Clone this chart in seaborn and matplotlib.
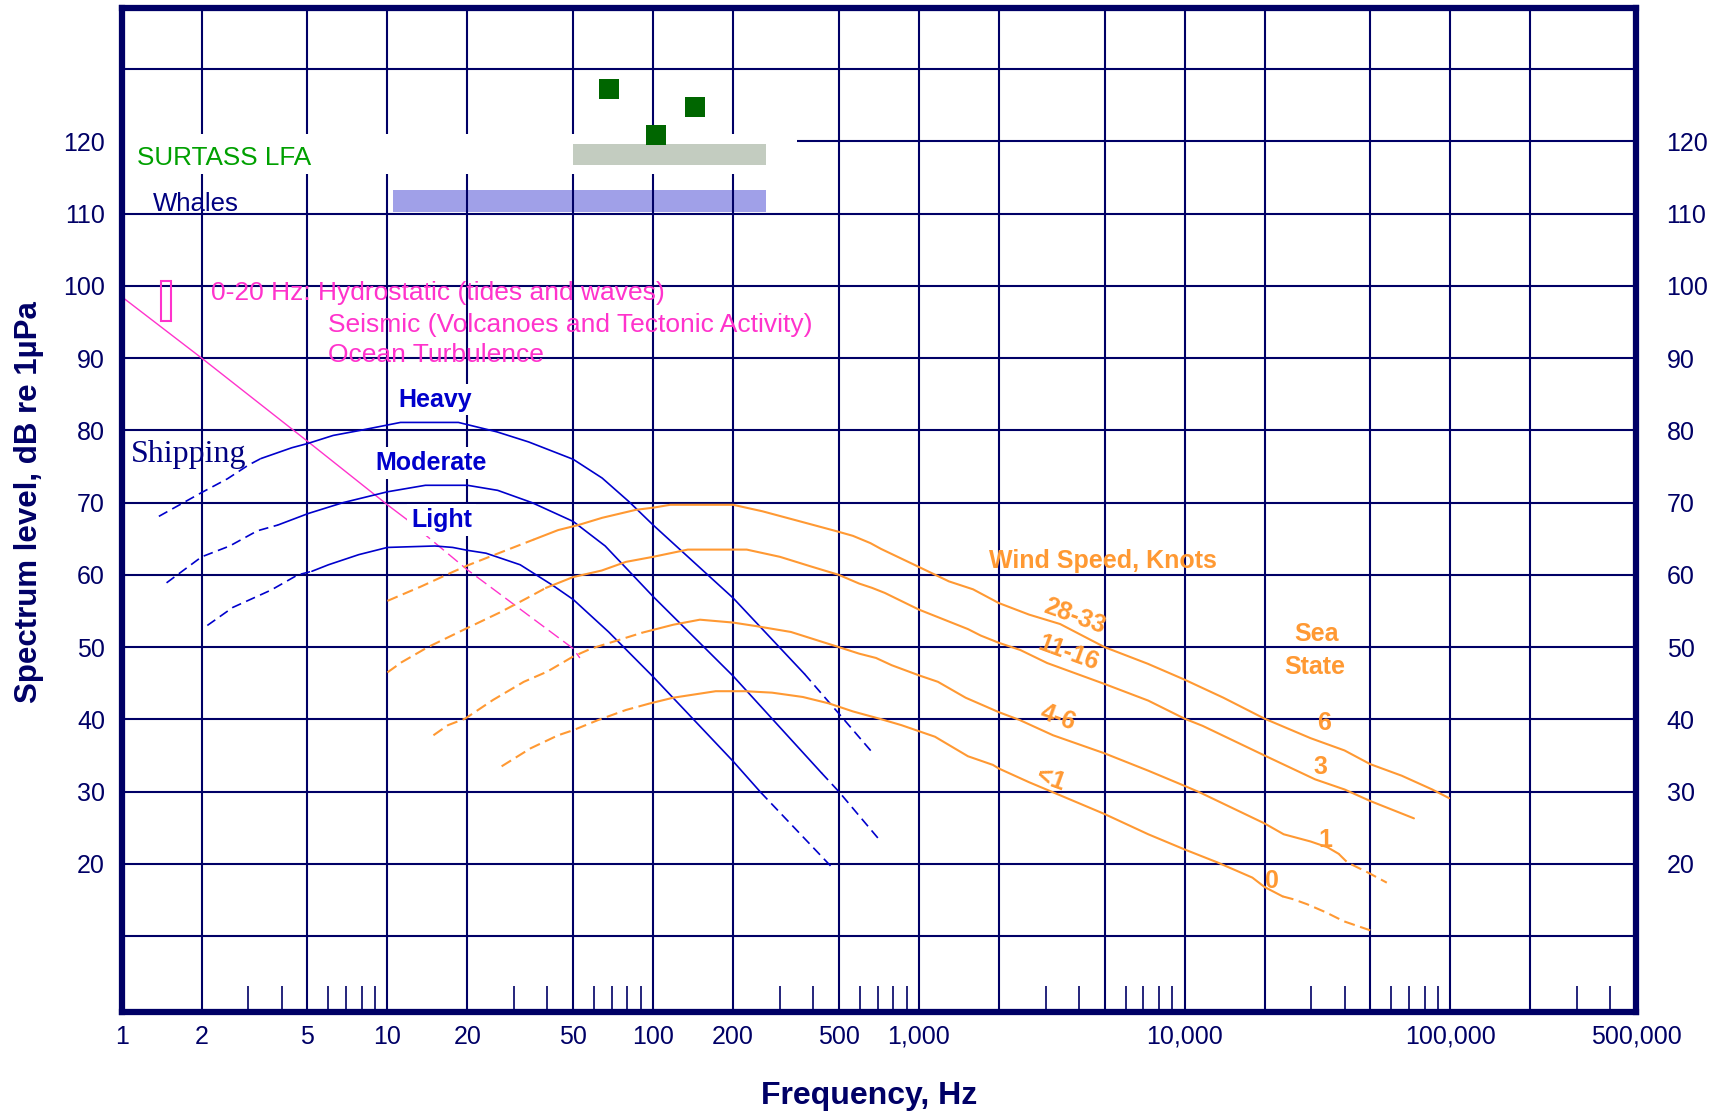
import matplotlib
matplotlib.use("Agg")
import matplotlib.pyplot as plt
from matplotlib.patches import Rectangle
from matplotlib.ticker import NullFormatter, NullLocator
import pandas as pd
import seaborn as sns

# ------------------------------------------------------------------ data
x_major = [1, 2, 5, 10, 20, 50, 100, 200, 500, 1000, 2000, 5000, 10000,
           20000, 50000, 100000, 200000, 500000]
x_labels = ['1', '2', '5', '10', '20', '50', '100', '200', '500', '1,000', '', '',
            '10,000', '', '', '100,000', '', '500,000']
x_minor = [3, 4, 6, 7, 8, 9, 30, 40, 60, 70, 80, 90, 300, 400, 600, 700, 800, 900,
           3000, 4000, 6000, 7000, 8000, 9000, 30000, 40000, 60000, 70000, 80000,
           90000, 300000, 400000]
y_major = [10, 20, 30, 40, 50, 60, 70, 80, 90, 100, 110, 120, 130]
y_labels = ['', '20', '30', '40', '50', '60', '70', '80', '90', '100', '110', '120', '']

# Shipping (blue)
heavy_lo_f = [1.38, 2.0, 2.5, 3.0, 3.34]
heavy_lo_db = [68.1, 71.4, 73.3, 75.2, 76.1]
heavy_f = [3.34, 4.37, 5.03, 6.25, 7.9, 11.2, 18.5, 25.8, 34, 50, 64.3, 81.3, 100, 200, 371]
heavy_db = [76.1, 77.6, 78.2, 79.3, 80.0, 81.1, 81.1, 79.8, 78.4, 76.0, 73.4, 70.1, 66.9, 56.8, 46.3]
heavy_hi_f = [371, 500, 676]
heavy_hi_db = [46.3, 40.8, 35.2]

moderate_lo_f = [1.475, 2.0, 2.55, 3.24, 3.87]
moderate_lo_db = [58.9, 62.5, 64.0, 66.1, 66.9]
moderate_f = [3.87, 5.04, 6.81, 10, 13.9, 20, 26, 35, 50, 66, 100, 200, 430]
moderate_db = [66.9, 68.5, 70.0, 71.5, 72.4, 72.4, 71.7, 70.0, 67.4, 64.0, 57.0, 46.0, 32.6]
moderate_hi_f = [430, 500, 708]
moderate_hi_db = [32.6, 30.0, 23.4]

light_lo_f = [2.1, 2.62, 3.65, 4.6, 5.2]
light_lo_db = [53.0, 55.5, 57.9, 60.0, 60.5]
light_f = [5.2, 6.0, 7.8, 10, 15.1, 17.6, 20, 23.5, 31.6, 41.7, 50, 68, 100, 200, 226, 254]
light_db = [60.5, 61.4, 62.8, 63.8, 64.0, 63.8, 63.4, 63.0, 61.4, 58.6, 56.6, 52.1, 45.9, 34.2, 32.0, 29.9]
light_hi_f = [254, 466]
light_hi_db = [29.9, 19.7]

# Wind / sea state (orange)
ws28_lo_f = [10, 13.4, 17.6, 20, 25.8, 35.6]
ws28_lo_db = [56.4, 58.4, 60.4, 61.3, 62.9, 64.9]
ws28_f = [35.6, 43.9, 52.3, 64.3, 86, 100, 116, 200, 258, 366, 495, 565, 657, 720, 1000,
          1298, 1600, 2000, 2600, 3400, 5000, 7270, 10000, 14000, 20000, 29800, 40000,
          50000, 65700, 85500, 99000]
ws28_db = [64.9, 66.2, 66.9, 67.9, 69.0, 69.3, 69.7, 69.7, 68.8, 67.3, 66.0, 65.4, 64.4, 63.6,
           61.1, 59.1, 58.0, 56.1, 54.5, 53.2, 50.0, 47.7, 45.5, 43.0, 40.1, 37.4, 35.7,
           33.8, 32.2, 30.3, 29.1]

ws11_lo_f = [10, 11.3, 14.2, 19.6, 26.5, 33.6, 39.5]
ws11_lo_db = [46.5, 47.9, 50.0, 52.5, 54.8, 56.8, 58.2]
ws11_f = [39.5, 50, 64, 79, 100, 135, 225, 300, 390, 500, 596, 667, 745, 1000, 1530, 1710,
          2000, 2410, 3040, 5000, 7300, 10000, 11700, 20000, 31000, 40000, 50000, 73000]
ws11_db = [58.2, 59.7, 60.6, 61.8, 62.5, 63.5, 63.5, 62.5, 61.2, 60.0, 58.8, 58.2, 57.5, 55.2,
           52.5, 51.6, 50.6, 49.6, 47.8, 44.9, 42.6, 40.1, 39.1, 35.0, 31.7, 30.3, 28.7, 26.3]

ws4_lo_f = [14.9, 16.9, 19.6, 25, 32.6, 39.9, 50, 58.5, 91]
ws4_lo_db = [37.8, 39.2, 40.1, 42.7, 45.2, 46.6, 48.7, 49.8, 52.0]
ws4_f = [91, 119, 150, 200, 245, 330, 500, 596, 690, 790, 1000, 1180, 1500, 2000, 2400,
         3200, 5000, 7300, 10000, 11400, 20000, 23600, 29800, 34500, 38000]
ws4_db = [52.0, 53.1, 53.8, 53.4, 52.9, 52.1, 50.0, 49.1, 48.5, 47.5, 46.1, 45.2, 43.0, 41.0,
          39.9, 37.8, 35.3, 32.9, 30.8, 29.9, 25.6, 24.1, 23.1, 22.3, 21.4]
ws4_hi_f = [38000, 41000, 49000, 57700]
ws4_hi_db = [21.4, 20.2, 18.8, 17.4]

ws1_lo_f = [26.9, 34.6, 43.9, 50, 62, 79, 97]
ws1_lo_db = [33.5, 36.0, 37.8, 38.5, 39.9, 41.3, 42.2]
ws1_f = [97, 119, 172, 222, 280, 366, 460, 565, 710, 860, 1150, 1530, 1900, 2000, 2600,
         3300, 5000, 7300, 10000, 13300, 18000, 20000, 23400]
ws1_db = [42.2, 43.0, 43.9, 43.9, 43.7, 43.1, 42.2, 41.1, 40.1, 39.2, 37.6, 34.9, 33.7, 33.2,
          31.3, 29.7, 26.9, 24.1, 22.0, 20.2, 18.1, 16.8, 15.5]
ws1_hi_f = [23400, 25700, 29000, 34000, 39800, 50000]
ws1_hi_db = [15.5, 15.1, 14.4, 13.3, 12.05, 10.8]

# Hydrostatic / seismic / turbulence line (pink)
turb_f = [1.0, 2, 5, 10, 11.8]
turb_db = [98.5, 90.0, 78.5, 69.7, 67.7]
turb_hi_f = [11.8, 20, 50, 53]
turb_hi_db = [67.7, 60.7, 49.8, 48.5]
hydro_box_f = [1.40, 1.53]
hydro_box_db = [95.2, 100.7]

# Sources at top
surtass_f = [50, 267]
surtass_db = [116.7, 119.6]
whales_f = [10.5, 267]
whales_db = [110.2, 113.3]
blank_f = [1.0, 348]
blank_db = [115.5, 121.0]
square_f = [68, 102.7, 144]
square_db = [127.2, 120.9, 124.8]

# ------------------------------------------------------------------ style
navy = '#000066'
blue = '#0000CC'
orange = '#FF9933'
pink = '#FF33CC'

sns.set_theme(style='white')
plt.rcParams['font.family'] = ['Liberation Sans', 'DejaVu Sans']
plt.rcParams['lines.scale_dashes'] = False

fig = plt.figure(figsize=(17.22, 11.14), dpi=100)
ax = fig.add_axes([121.7 / 1722, 102 / 1114, (1636 - 121.7) / 1722, 1004 / 1114])
ax.set_xscale('log')


def seg(f, db, color, lw, dash=None, z=2):
    df = pd.DataFrame({'f': f, 'db': db})
    ls = (0, dash) if dash else '-'
    sns.lineplot(data=df, x='f', y='db', ax=ax, color=color, linewidth=lw,
                 linestyle=ls, sort=False, estimator=None, zorder=z)


bdash = (7, 4)
odash = (8, 4)
for lo, mid, hi in [((heavy_lo_f, heavy_lo_db), (heavy_f, heavy_db), (heavy_hi_f, heavy_hi_db)),
                    ((moderate_lo_f, moderate_lo_db), (moderate_f, moderate_db), (moderate_hi_f, moderate_hi_db)),
                    ((light_lo_f, light_lo_db), (light_f, light_db), (light_hi_f, light_hi_db))]:
    seg(*lo, blue, 1.2, bdash)
    seg(*mid, blue, 1.2)
    seg(*hi, blue, 1.2, bdash)

seg(ws28_lo_f, ws28_lo_db, orange, 1.5, odash)
seg(ws28_f, ws28_db, orange, 1.5)
seg(ws11_lo_f, ws11_lo_db, orange, 1.5, odash)
seg(ws11_f, ws11_db, orange, 1.5)
seg(ws4_lo_f, ws4_lo_db, orange, 1.5, odash)
seg(ws4_f, ws4_db, orange, 1.5)
seg(ws4_hi_f, ws4_hi_db, orange, 1.5, odash)
seg(ws1_lo_f, ws1_lo_db, orange, 1.5, odash)
seg(ws1_f, ws1_db, orange, 1.5)
seg(ws1_hi_f, ws1_hi_db, orange, 1.5, odash)

seg(turb_f, turb_db, pink, 1.0, z=1.5)
seg(turb_hi_f, turb_hi_db, pink, 1.0, (9, 4), z=1.5)

# top region
ax.add_patch(Rectangle((blank_f[0], blank_db[0]), blank_f[1] - blank_f[0], blank_db[1] - blank_db[0],
                       facecolor='white', edgecolor='none', zorder=0.8))
ax.add_patch(Rectangle((surtass_f[0], surtass_db[0]), surtass_f[1] - surtass_f[0],
                       surtass_db[1] - surtass_db[0], facecolor='#C3CCC0', edgecolor='none', zorder=0.9))
ax.add_patch(Rectangle((whales_f[0], whales_db[0]), whales_f[1] - whales_f[0],
                       whales_db[1] - whales_db[0], facecolor='#A0A0E8', edgecolor='none', zorder=0.3))
ax.add_patch(Rectangle((hydro_box_f[0], hydro_box_db[0]), hydro_box_f[1] - hydro_box_f[0],
                       hydro_box_db[1] - hydro_box_db[0], facecolor='none', edgecolor=pink,
                       linewidth=1.5, zorder=2))
sns.scatterplot(x=square_f, y=square_db, ax=ax, marker='s', s=200, color='#006600',
                linewidth=0, zorder=3)

# axes
ax.set_xlim(1, 500000)
ax.set_ylim(-0.5, 138.46)
ax.set_xlabel('')
ax.set_ylabel('')
ax.set_xticks(x_major)
ax.set_xticklabels(x_labels)
ax.set_xticks(x_minor, minor=True)
ax.xaxis.set_minor_formatter(NullFormatter())
ax.tick_params(axis='x', which='major', length=0, pad=9, labelsize=18, labelcolor=navy)
ax.tick_params(axis='x', which='minor', direction='in', length=19, width=1.2, color=navy,
               bottom=True, top=False)
ax.set_yticks(y_major)
ax.set_yticklabels(y_labels)
ax.yaxis.set_minor_locator(NullLocator())
ax.tick_params(axis='y', which='major', length=0, pad=12, labelsize=18, labelcolor=navy)
ax.grid(True, which='major', axis='both', color=navy, linewidth=1.5)
ax.set_axisbelow(True)
for sp in ax.spines.values():
    sp.set_visible(True)
    sp.set_color(navy)
    sp.set_linewidth(4.5)

ax2 = ax.twinx()
ax2.set_ylim(-0.5, 138.46)
ax2.set_yticks(y_major)
ax2.set_yticklabels(y_labels)
ax2.yaxis.set_minor_locator(NullLocator())
ax2.tick_params(axis='y', which='major', length=0, pad=22, labelsize=18, labelcolor=navy)
ax2.grid(False)
for sp in ax2.spines.values():
    sp.set_visible(False)

# texts
ax.text(1.14, 116.7, 'SURTASS LFA', color='#00A000', fontsize=18.8, va='baseline', zorder=3)
ax.text(1.305, 110.4, 'Whales', color='#000080', fontsize=18.5, va='baseline', zorder=3)
ax.text(2.17, 98.0, '0-20 Hz: Hydrostatic (tides and waves)', color=pink, fontsize=19,
        va='baseline', zorder=3)
ax.text(5.98, 93.65, 'Seismic (Volcanoes and Tectonic Activity)', color=pink, fontsize=19,
        va='baseline', zorder=3)
ax.text(5.98, 89.4, 'Ocean Turbulence', color=pink, fontsize=19, va='baseline', zorder=3)
ax.text(1.085, 75.6, 'Shipping', color='#000080', fontsize=23, va='baseline',
        family=['Liberation Serif', 'DejaVu Serif'], zorder=3)
wbox = dict(boxstyle='square,pad=0.15', facecolor='white', edgecolor='none')
for label, f, d in [('Heavy', 15.1, 83.3), ('Moderate', 14.65, 74.5), ('Light', 16.0, 66.6)]:
    ax.text(f, d, label, color=blue, fontsize=18, fontweight='bold', ha='center',
            va='baseline', bbox=wbox, zorder=4)

ax.text(1830, 60.9, 'Wind Speed, Knots', color=orange, fontsize=18, fontweight='bold',
        va='baseline', zorder=3)
for label, f, d in [('28-33', 3840, 54.3), ('11-16', 3640, 49.1), ('4-6', 3330, 40.25),
                    ('<1', 3140, 31.66)]:
    ax.text(f, d, label, color=orange, fontsize=18, fontweight='bold', ha='center', va='center',
            rotation=-20, rotation_mode='anchor', zorder=3)
for label, f, d in [('Sea', 31400, 50.8), ('State', 31000, 46.35), ('6', 33600, 38.5),
                    ('3', 32500, 32.45), ('1', 33800, 22.3), ('0', 21400, 16.7)]:
    ax.text(f, d, label, color=orange, fontsize=18, fontweight='bold', ha='center',
            va='baseline', zorder=3)

fig.text(29.5 / 1722, 1 - 502 / 1114, 'Spectrum level, dB re 1µPa', rotation=90, ha='center',
         va='center', fontsize=22.5, fontweight='bold', color=navy)
fig.text(869 / 1722, (1114 - 1104) / 1114, 'Frequency, Hz', ha='center', va='baseline',
         fontsize=23, fontweight='bold', color=navy)

fig.savefig('out.png', dpi=100)
